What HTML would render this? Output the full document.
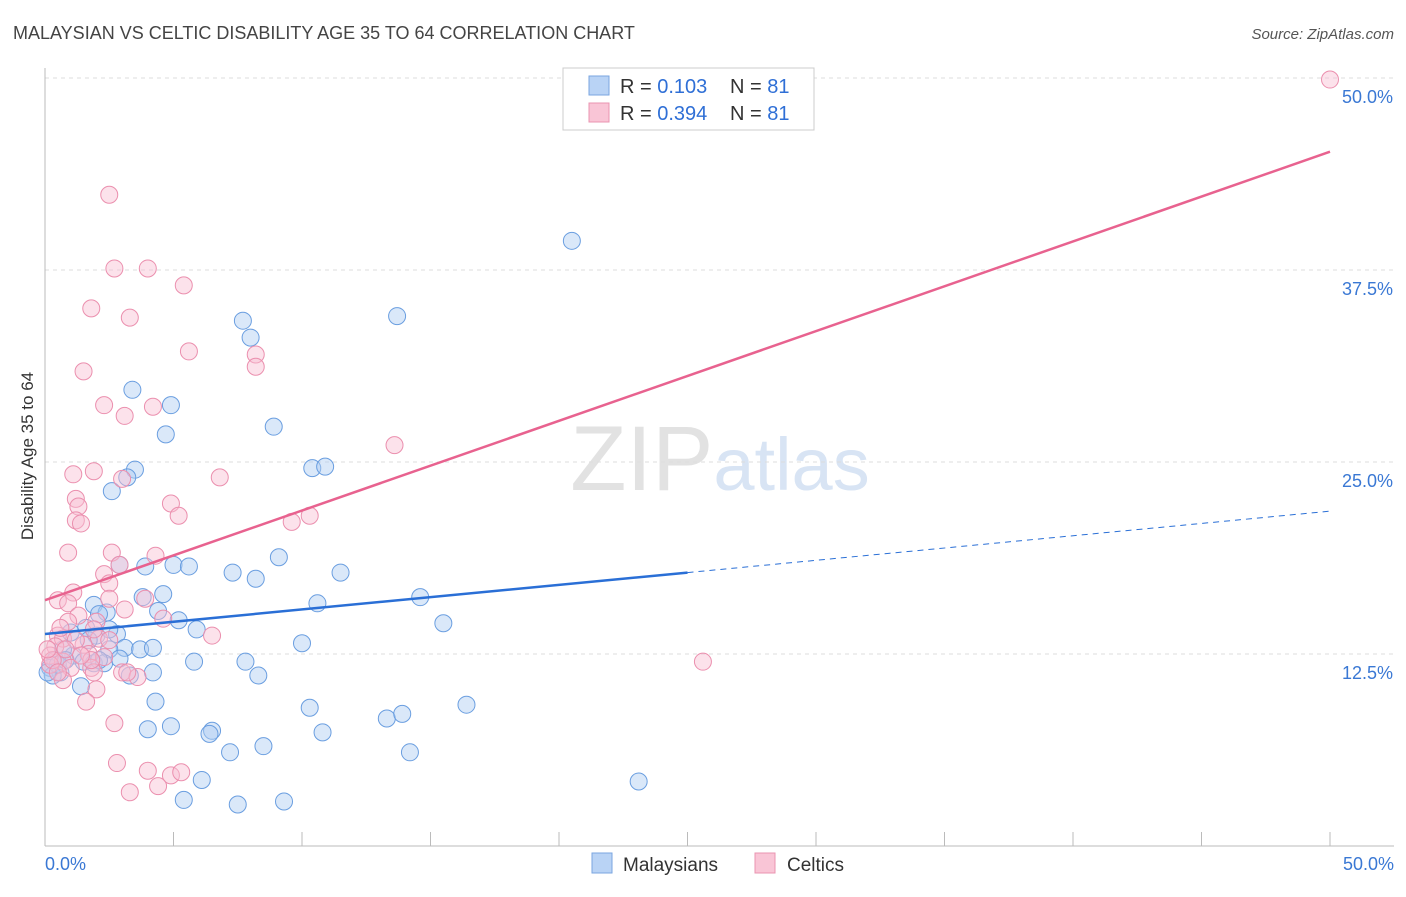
<!DOCTYPE html>
<html><head><meta charset="utf-8"><style>
body{margin:0;background:#fff;font-family:"Liberation Sans",sans-serif;}
svg text{font-family:"Liberation Sans",sans-serif;}
</style></head><body>
<svg id="chart" width="1406" height="892" xmlns="http://www.w3.org/2000/svg">
<text x="13" y="39" font-size="18" fill="#444">MALAYSIAN VS CELTIC DISABILITY AGE 35 TO 64 CORRELATION CHART</text>
<text x="1394" y="39" font-size="15" fill="#555" text-anchor="end" font-style="italic">Source: ZipAtlas.com</text>
<text x="720" y="490" font-size="92" fill="#e6e6e6" text-anchor="middle" font-family="Liberation Serif"><tspan fill="#e2e2e2">ZIP</tspan><tspan fill="#d8e4f4" font-family="Liberation Sans" font-size="74">atlas</tspan></text>
<g id="grid"></g><g id="axes"></g>
<text transform="translate(33,456) rotate(-90)" font-size="17" fill="#333" text-anchor="middle">Disability Age 35 to 64</text>
<g id="pts"></g><g id="lines"></g>
<g>
<rect x="563" y="68" width="251" height="62" fill="#fff" stroke="#ccc"/>
<rect x="589" y="76" width="20" height="19" fill="#b9d3f5" stroke="#7aa6e0"/>
<rect x="589" y="103" width="20" height="19" fill="#f9c5d6" stroke="#ea94b0"/>
<text x="620" y="93" font-size="20" fill="#333">R = <tspan fill="#2f6fd6">0.103</tspan><tspan x="730">N = </tspan><tspan fill="#2f6fd6">81</tspan></text>
<text x="620" y="120" font-size="20" fill="#333">R = <tspan fill="#2f6fd6">0.394</tspan><tspan x="730">N = </tspan><tspan fill="#2f6fd6">81</tspan></text>
</g>
<g>
<rect x="592" y="853" width="20" height="20" fill="#b9d3f5" stroke="#7aa6e0"/>
<text x="623" y="871" font-size="19" fill="#333">Malaysians</text>
<rect x="755" y="853" width="20" height="20" fill="#f9c5d6" stroke="#ea94b0"/>
<text x="787" y="871" font-size="19" fill="#333">Celtics</text>
</g>
</svg>
<script>
const yTicks=[12.5,25,37.5,50];
const yTickLabels=["12.5%","25.0%","37.5%","50.0%"];
const xTickLabels=["0.0%","50.0%"];
const blueX=[20.5,13.7,7.7,8.0,3.4,4.9,4.7,8.9,10.4,10.9,3.5,3.2,2.6,2.9,3.9,5.0,5.6,9.1,7.3,8.2,11.5,14.6,10.6,4.6,3.8,4.4,5.2,1.9,2.4,2.1,5.9,15.5,10.0,1.6,2.8,2.0,1.0,1.1,0.7,0.4,0.2,0.6,3.1,3.7,4.2,2.5,1.5,1.9,2.3,2.9,5.8,7.8,4.2,3.3,8.3,1.4,4.3,10.3,16.4,13.3,13.9,4.0,4.9,6.5,6.4,10.8,8.5,7.2,14.2,6.1,23.1,5.4,7.5,9.3,0.3,0.5,0.8,0.1,2.5,1.7,2.1];
const blueY=[39.4,34.5,34.2,33.1,29.7,28.7,26.8,27.3,24.6,24.7,24.5,24.0,23.1,18.3,18.2,18.3,18.2,18.8,17.8,17.4,17.8,16.2,15.8,16.4,16.2,15.3,14.7,15.7,15.2,15.1,14.1,14.5,13.2,14.2,13.8,13.7,13.9,12.4,12.8,12.1,11.6,11.3,12.9,12.8,12.9,12.8,12.0,11.9,11.9,12.2,12.0,12.0,11.3,11.1,11.1,10.4,9.4,9.0,9.2,8.3,8.6,7.6,7.8,7.5,7.3,7.4,6.5,6.1,6.1,4.3,4.2,3.0,2.7,2.9,11.1,11.8,12.1,11.3,14.1,13.4,12.1];
const pinkX=[50.0,2.5,2.7,4.0,5.4,1.8,3.3,5.6,8.2,8.2,1.5,4.2,2.3,3.1,13.6,1.1,1.9,3.0,6.8,1.2,1.3,4.9,5.2,9.6,10.3,1.2,1.4,0.9,2.6,4.3,2.9,2.3,2.5,1.1,0.5,0.9,2.5,3.9,1.3,0.9,2.0,4.6,6.5,0.5,0.7,2.1,1.5,0.4,0.2,1.7,2.3,0.7,1.0,1.8,1.9,3.0,3.6,3.2,0.7,2.0,1.6,25.6,2.7,2.8,4.0,4.9,5.3,4.4,3.3,0.2,0.3,0.1,1.2,0.6,1.9,0.5,1.8,0.8,2.5,1.4,3.1];
const pinkY=[49.9,42.4,37.6,37.6,36.5,35.0,34.4,32.2,32.0,31.2,30.9,28.6,28.7,28.0,26.1,24.2,24.4,23.9,24.0,22.6,22.1,22.3,21.5,21.1,21.5,21.2,21.0,19.1,19.1,18.9,18.3,17.7,17.1,16.5,16.0,15.8,16.1,16.1,15.0,14.6,14.6,14.8,13.7,13.7,13.5,13.5,13.1,13.0,12.4,12.5,12.3,12.0,11.6,11.6,11.3,11.3,11.0,11.3,10.8,10.2,9.4,12.0,8.0,5.4,4.9,4.6,4.8,3.9,3.5,11.8,12.1,12.8,13.4,14.2,14.1,11.3,12.1,12.8,13.4,12.4,15.4];
const blueFit=[13.8,0.16];
const pinkFit=[16.0,0.584];
const X=v=>45+v*25.7, Y=v=>846-v*15.36;
const NS="http://www.w3.org/2000/svg";
function mk(t,a,p){const e=document.createElementNS(NS,t);for(const k in a)e.setAttribute(k,a[k]);p.appendChild(e);return e;}
const grid=document.getElementById('grid'),axes=document.getElementById('axes');
yTicks.forEach((t,i)=>{
 const l=mk('line',{x1:45,x2:1394,y1:Y(t),y2:Y(t),stroke:'#ddd','stroke-dasharray':'4,4'},grid);
 
 
 const tx=mk('text',{x:1393,y:Y(t)+25,'font-size':18,fill:'#3a78d4','text-anchor':'end'},grid);
 tx.textContent=yTickLabels[i];
 
 
});
mk('line',{x1:45,x2:45,y1:68,y2:846,stroke:'#bbb'},axes);
mk('line',{x1:45,x2:1394,y1:846,y2:846,stroke:'#bbb'},axes);
for(let i=0;i<=10;i++){const x=X(i*5);mk('line',{x1:x,x2:x,y1:832,y2:846,stroke:'#bbb'},axes);}
const xl0=mk('text',{x:45,y:870,'font-size':18,fill:'#3a78d4'},axes);xl0.textContent=xTickLabels[0];


const xl1=mk('text',{x:1394,y:870,'font-size':18,fill:'#3a78d4','text-anchor':'end'},axes);xl1.textContent=xTickLabels[1];


const pts=document.getElementById('pts');
function draw(xs,ys,fill,stroke,name){xs.forEach((x,i)=>{const c=mk('circle',{cx:X(x),cy:Y(ys[i]),r:8.5,fill:fill,'fill-opacity':0.45,stroke:stroke,'stroke-width':1},pts);
 
 });}
draw(blueX,blueY,'#aecbf2','#6a9ee0','malaysian-point');
draw(pinkX,pinkY,'#f8bfd2','#eb8fae','celtic-point');
const lines=document.getElementById('lines');
const b1=mk('line',{x1:X(0),y1:Y(blueFit[0]),x2:X(25),y2:Y(blueFit[0]+blueFit[1]*25),stroke:'#2a6fd6','stroke-width':2.5},lines);


const b2=mk('line',{x1:X(25),y1:Y(blueFit[0]+blueFit[1]*25),x2:X(50),y2:Y(blueFit[0]+blueFit[1]*50),stroke:'#2a6fd6','stroke-width':1,'stroke-dasharray':'6,5'},lines);


const p1=mk('line',{x1:X(0),y1:Y(pinkFit[0]),x2:X(50),y2:Y(pinkFit[0]+pinkFit[1]*50),stroke:'#e8628f','stroke-width':2.5},lines);


</script>
</body></html>
